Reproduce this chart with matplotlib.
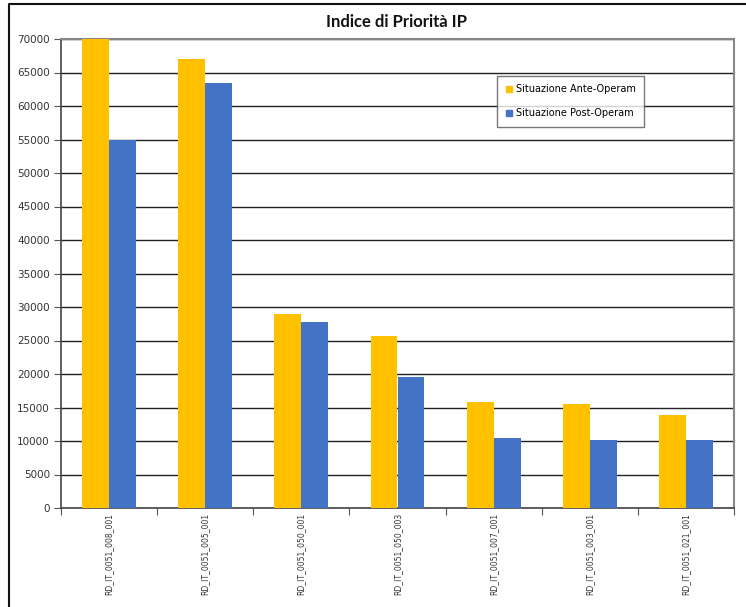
import matplotlib
matplotlib.use("Agg")
import matplotlib.pyplot as plt
import numpy as np
from matplotlib.lines import Line2D

categories = ["RD_IT_0051_008_001", "RD_IT_0051_005_001", "RD_IT_0051_050_001",
              "RD_IT_0051_050_003", "RD_IT_0051_007_001", "RD_IT_0051_003_001",
              "RD_IT_0051_021_001"]
ante = [70000, 67000, 28900, 25700, 15800, 15500, 13900]
post = [55000, 63500, 27800, 19600, 10400, 10100, 10100]
series_names = ["Situazione Ante-Operam", "Situazione Post-Operam"]
yticks = list(range(0, 70001, 5000))

W, H = 746, 607
fig = plt.figure(figsize=(W/100, H/100), dpi=100)
L, R, T, B = 61, 734, 39, 508
ax = fig.add_axes([L/W, 1 - B/H, (R-L)/W, (B-T)/H])

x = np.arange(len(categories))
bw = 0.28
ax.bar(x - bw/2, ante, bw, color="#FFC000", label=series_names[0], zorder=3)
ax.bar(x + bw/2, post, bw, color="#4472C4", label=series_names[1], zorder=3)

ax.set_xlim(-0.5, len(categories) - 0.5)
ax.set_ylim(0, 70000)
ax.set_yticks(yticks)
ax.set_yticklabels([str(v) for v in yticks], fontsize=7.5, color="#333333", family="DejaVu Sans")
ax.yaxis.grid(True, color="#222222", linewidth=1.0, zorder=0)
ax.tick_params(axis="y", length=5, width=0.8, color="#555555", pad=3)

# x ticks at category boundaries
ax.set_xticks(np.arange(-0.5, len(categories) + 0.5, 1.0), minor=False)
ax.set_xticklabels([])
ax.tick_params(axis="x", length=5, width=0.8, color="#555555")
for i, c in enumerate(categories):
    ax.text(i, -0.01, c, transform=ax.get_xaxis_transform(), rotation=90,
            ha="center", va="top", fontsize=5.5, color="#333333", family="DejaVu Sans")

for s in ["top", "right"]:
    ax.spines[s].set_color("#888888")
    ax.spines[s].set_linewidth(1.5)
ax.spines["left"].set_color("#444444")
ax.spines["left"].set_linewidth(1.2)
ax.spines["bottom"].set_color("#444444")
ax.spines["bottom"].set_linewidth(1.2)

fig.text(396/W, 1 - 22/H, "Indice di Priorità IP", ha="center", va="center",
         fontsize=12, fontweight="bold", family="Lato", color="#111111")

handles = [Line2D([], [], marker="s", linestyle="none", markersize=5, color="#FFC000"),
           Line2D([], [], marker="s", linestyle="none", markersize=5, color="#4472C4")]
leg = ax.legend(handles, series_names, loc="upper left",
                bbox_to_anchor=((497-L)/(R-L), 1 - (76-T)/(B-T)),
                borderaxespad=0, frameon=True, fancybox=False,
                handletextpad=0.3, handlelength=0.8, labelspacing=1.45,
                borderpad=0.85, prop={"family": "DejaVu Sans", "size": 7})
leg.get_frame().set_edgecolor("#555555")
leg.get_frame().set_linewidth(1.0)
leg.set_zorder(5)

# figure border (top and left)
fig.add_artist(Line2D([9/W, 9/W, 1], [0, 1 - 4/H, 1 - 4/H], color="#111111",
                      linewidth=1.5, transform=fig.transFigure))

fig.savefig("out.png", dpi=100, facecolor="white")
